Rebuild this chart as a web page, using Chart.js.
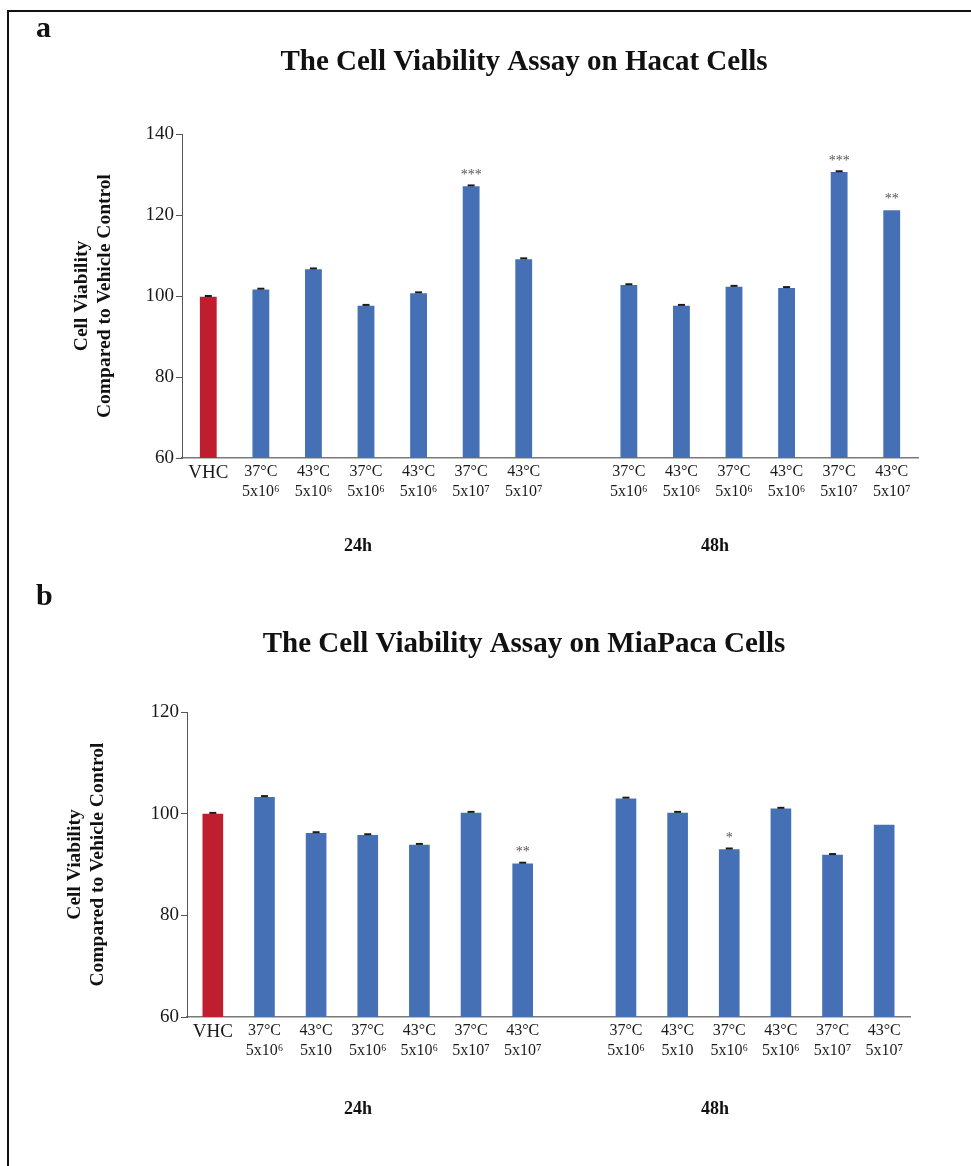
<!DOCTYPE html>
<html>
<head>
<meta charset="utf-8">
<script src="https://cdn.jsdelivr.net/npm/chart.js@4.4.1/dist/chart.umd.min.js"></script>
<style>
  body { margin: 0; background: #fff; }
  #page { position: relative; width: 971px; height: 1166px; overflow: hidden; background: #fff; }
  #frame { position: absolute; left: 7px; top: 10px; width: 1000px; height: 1200px;
           border-top: 2px solid #111; border-left: 2px solid #111; }
  .panel { position: absolute; left: 0; width: 971px; }
</style>
</head>
<body>
<div id="page">
  <div id="frame"></div>
  <div class="panel" style="top:0;height:580px"><canvas id="hacatChart"></canvas></div>
  <div class="panel" style="top:580px;height:586px"><canvas id="miapacaChart"></canvas></div>
</div>
<script>
// group index 7 is left empty to separate the 24h and 48h bars
const hacatLabels = [
  'VHC', ['37°C', '5x10⁶'], ['43°C', '5x10⁶'], ['37°C', '5x10⁶'], ['43°C', '5x10⁶'],
  ['37°C', '5x10⁷'], ['43°C', '5x10⁷'], '',
  ['37°C', '5x10⁶'], ['43°C', '5x10⁶'], ['37°C', '5x10⁶'], ['43°C', '5x10⁶'],
  ['37°C', '5x10⁷'], ['43°C', '5x10⁷']
];
const hacatValues = [99.8, 101.6, 106.6, 97.6, 100.7, 127.1, 109.1, null, 102.7, 97.6, 102.3, 102.0, 130.6, 121.2];
const hacatErrors = [0.2, 0.2, 0.2, 0.2, 0.2, 0.2, 0.2, null, 0.2, 0.2, 0.2, 0.2, 0.2, 0];
const hacatStars  = ['', '', '', '', '', '***', '', '', '', '', '', '', '***', '**'];

const miapacaLabels = [
  'VHC', ['37°C', '5x10⁶'], ['43°C', '5x10'], ['37°C', '5x10⁶'], ['43°C', '5x10⁶'],
  ['37°C', '5x10⁷'], ['43°C', '5x10⁷'], '',
  ['37°C', '5x10⁶'], ['43°C', '5x10'], ['37°C', '5x10⁶'], ['43°C', '5x10⁶'],
  ['37°C', '5x10⁷'], ['43°C', '5x10⁷']
];
const miapacaValues = [100.0, 103.3, 96.2, 95.8, 93.9, 100.2, 90.2, null, 103.0, 100.2, 93.0, 101.0, 91.9, 97.8];
const miapacaErrors = [0.15, 0.15, 0.15, 0.15, 0.15, 0.15, 0.15, null, 0.15, 0.15, 0.15, 0.15, 0.15, 0];
const miapacaStars  = ['', '', '', '', '', '', '**', '', '', '', '*', '', '', ''];

const groupLabels = ['24h', '48h'];

const RED = '#BE1E2D';
const BLUE = '#4670B5';
const SERIF = '"Liberation Serif", "Times New Roman", serif';

// error caps, significance stars and the free text of each panel
const figureText = {
  id: 'figureText',
  afterDatasetsDraw(chart, args, opts) {
    const { ctx } = chart;
    const yScale = chart.scales.y;
    const meta = chart.getDatasetMeta(0);
    const values = chart.data.datasets[0].data;
    ctx.save();
    values.forEach((v, i) => {
      if (v === null) return;
      const bar = meta.data[i];
      const err = opts.errors[i];
      if (err) {
        const yTop = yScale.getPixelForValue(v + err);
        ctx.strokeStyle = '#1a1a1a';
        ctx.lineWidth = 2;
        ctx.beginPath();
        ctx.moveTo(bar.x - 3.5, yTop);
        ctx.lineTo(bar.x + 3.5, yTop);
        ctx.stroke();
      }
      if (opts.stars[i]) {
        ctx.fillStyle = '#555';
        ctx.font = '14px ' + SERIF;
        ctx.textAlign = 'center';
        ctx.textBaseline = 'alphabetic';
        ctx.fillText(opts.stars[i], bar.x, yScale.getPixelForValue(v) - 7);
      }
    });
    ctx.restore();
  },
  afterDraw(chart, args, opts) {
    const { ctx } = chart;
    ctx.save();
    ctx.fillStyle = '#111';
    ctx.textBaseline = 'alphabetic';
    ctx.textAlign = 'left';
    ctx.font = 'bold 30px ' + SERIF;
    ctx.fillText(opts.letter, 36, opts.letterY);
    ctx.textAlign = 'center';
    ctx.font = 'bold 29px ' + SERIF;
    ctx.fillText(opts.title, 524, opts.titleY);
    ctx.font = 'bold 18px ' + SERIF;
    ctx.fillText(groupLabels[0], 358, opts.groupY);
    ctx.fillText(groupLabels[1], 715, opts.groupY);
    ctx.restore();
  }
};

function makeChart(id, cfg) {
  const ctx = document.getElementById(id).getContext('2d');
  return new Chart(ctx, {
    type: 'bar',
    data: {
      labels: cfg.labels,
      datasets: [{
        data: cfg.values,
        backgroundColor: cfg.values.map((v, i) => i === 0 ? RED : BLUE),
        borderWidth: 0,
        barPercentage: cfg.barPct,
        categoryPercentage: 1
      }]
    },
    options: {
      responsive: true,
      maintainAspectRatio: false,
      animation: false,
      layout: { padding: { left: 0, top: cfg.top, right: cfg.right, bottom: 0 } },
      scales: {
        x: {
          grid: { display: false, drawTicks: false },
          border: { display: true, color: '#7a7a7a', width: 1.5 },
          ticks: {
            color: '#1a1a1a',
            padding: 3,
            maxRotation: 0,
            autoSkip: false,
            font: (c) => ({ family: SERIF, size: c.index === 0 ? 19 : 16, lineHeight: 1.3 })
          },
          afterFit: (scale) => { scale.height = cfg.xHeight; }
        },
        y: {
          min: cfg.min,
          max: cfg.max,
          grid: { display: true, drawOnChartArea: false, drawTicks: true, tickLength: 6, color: '#555' },
          border: { display: true, color: '#555', width: 1 },
          ticks: { stepSize: 20, color: '#1a1a1a', padding: 2, font: { family: SERIF, size: 19 } },
          title: {
            display: true,
            text: ['Cell Viability', 'Compared to Vehicle Control'],
            color: '#111',
            font: { family: SERIF, size: 19.5, weight: 'bold', lineHeight: 1.2 },
            padding: { top: cfg.titlePad, bottom: 0 }
          },
          afterFit: (scale) => { scale.width = cfg.yWidth; }
        }
      },
      plugins: {
        legend: { display: false },
        tooltip: { enabled: false },
        figureText: {
          errors: cfg.errors,
          stars: cfg.stars,
          letter: cfg.letter,
          letterY: cfg.letterY,
          title: cfg.title,
          titleY: cfg.titleY,
          groupY: cfg.groupY
        }
      }
    },
    plugins: [figureText]
  });
}

makeChart('hacatChart', {
  labels: hacatLabels, values: hacatValues, errors: hacatErrors, stars: hacatStars,
  min: 60, max: 140, barPct: 0.32,
  top: 134, right: 53, yWidth: 182, xHeight: 122, titlePad: 70,
  letter: 'a', letterY: 37, title: 'The Cell Viability Assay on Hacat Cells', titleY: 70, groupY: 551
});

makeChart('miapacaChart', {
  labels: miapacaLabels, values: miapacaValues, errors: miapacaErrors, stars: miapacaStars,
  min: 60, max: 120, barPct: 0.40,
  top: 132, right: 61, yWidth: 187, xHeight: 149, titlePad: 63,
  letter: 'b', letterY: 25, title: 'The Cell Viability Assay on MiaPaca Cells', titleY: 72, groupY: 534
});
</script>
</body>
</html>
